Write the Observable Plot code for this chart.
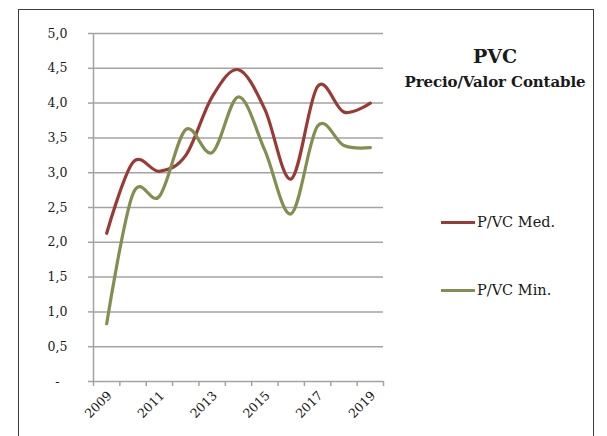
<!DOCTYPE html>
<html><head><meta charset="utf-8">
<script src="https://cdn.jsdelivr.net/npm/d3@7"></script>
<script src="https://cdn.jsdelivr.net/npm/@observablehq/plot@0.6"></script>
<style>
body{margin:0;background:#fff;}
#wrap{position:relative;width:607px;height:436px;overflow:hidden;font-family:"DejaVu Serif",serif;color:#1a1a1a;}
#frame{position:absolute;left:18px;top:9px;width:576px;height:450px;border:1.5px solid #3c3c3c;box-sizing:border-box;}
#chart{position:absolute;left:0;top:0;}
.t1{position:absolute;left:395px;width:200px;text-align:center;font-weight:bold;}
.leg{position:absolute;left:441px;font-size:14.5px;white-space:nowrap;}
.sw{display:inline-block;width:34px;height:3px;vertical-align:middle;margin-right:2px;position:relative;top:-1px;}
</style></head>
<body>
<div id="wrap">
  <div id="frame"></div>
  <div id="chart"></div>
  <div class="t1" style="top:45px;font-size:19px;">PVC</div>
  <div class="t1" style="top:73px;font-size:15px;letter-spacing:-0.1px;">Precio/Valor Contable</div>
  <div id="legend"></div>
</div>
<script>
const years = [2009, 2010, 2011, 2012, 2013, 2014, 2015, 2016, 2017, 2018, 2019];
const pvcMed = [2.13, 3.15, 3.02, 3.25, 4.09, 4.48, 3.91, 2.91, 4.24, 3.87, 4.00];
const pvcMin = [0.83, 2.70, 2.66, 3.62, 3.29, 4.09, 3.32, 2.41, 3.67, 3.39, 3.36];
const seriesNames = ["P/VC Med.", "P/VC Min."];
const seriesColors = ["#9a3a35", "#838f50"];
const yTicks = [0, 0.5, 1, 1.5, 2, 2.5, 3, 3.5, 4, 4.5, 5];
const xLabelYears = [2009, 2011, 2013, 2015, 2017, 2019];

const rows = [];
[pvcMed, pvcMin].forEach((vals, i) => years.forEach((yr, j) => rows.push({series: seriesNames[i], year: yr, value: vals[j]})));
const boundaries = years.map(y => y - 0.5).concat([years[years.length - 1] + 0.5]);
const fmt = d => d === 0 ? "-\u00a0\u00a0" : d.toFixed(1).replace(".", ",");
const gray = "#a3a3a3";

const chart = Plot.plot({
  width: 607, height: 436,
  marginLeft: 93, marginRight: 224, marginTop: 33, marginBottom: 55,
  style: {fontFamily: "'DejaVu Serif', serif", fontSize: "12.5px", background: "transparent", color: "#1a1a1a"},
  x: {type: "linear", domain: [boundaries[0], boundaries[boundaries.length - 1]]},
  y: {domain: [0, 5]},
  color: {domain: seriesNames, range: seriesColors},
  marks: [
    Plot.gridY(yTicks, {stroke: gray, strokeOpacity: 1, strokeWidth: 1.5}),
    Plot.axisY(yTicks, {tickSize: 5, tickPadding: 21, tickFormat: fmt, stroke: gray, strokeWidth: 1.5, fill: "#1a1a1a", label: null}),
    Plot.ruleX([boundaries[0]], {stroke: gray, strokeWidth: 1.5}),
    Plot.axisX(boundaries, {tickSize: 5, tickFormat: () => "", stroke: gray, strokeWidth: 1.5, label: null}),
    Plot.axisX(xLabelYears, {tickSize: 0, tickPadding: 8, tickRotate: -45, dx: 3, dy: 4, tickFormat: d => String(d), fill: "#1a1a1a", label: null}),
    Plot.line(rows, {x: "year", y: "value", stroke: "series", z: "series", curve: "cardinal", strokeWidth: 3.2, strokeLinecap: "round"})
  ]
});
document.getElementById("chart").appendChild(chart);

const legend = document.getElementById("legend");
const legTops = [214, 282];
seriesNames.forEach((name, i) => {
  const d = document.createElement("div");
  d.className = "leg";
  d.style.top = legTops[i] + "px";
  d.innerHTML = `<span class="sw" style="background:${seriesColors[i]}"></span>${name}`;
  legend.appendChild(d);
});
</script>
</body></html>
